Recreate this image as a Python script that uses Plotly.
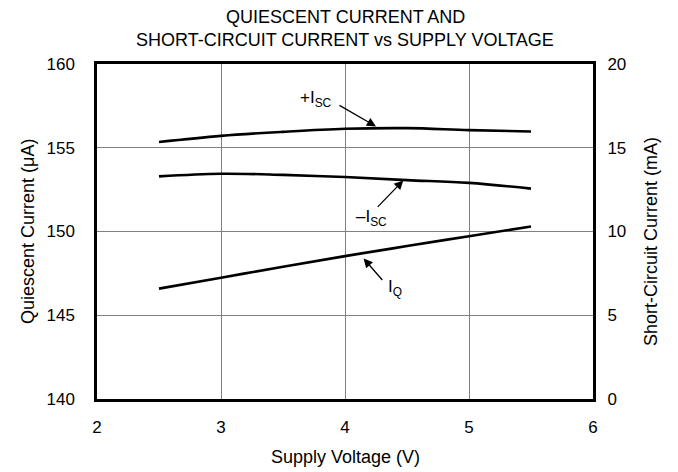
import plotly.graph_objects as go

# Data
voltage = [2.5, 3.0, 3.5, 4.0, 4.5, 5.0, 5.5]
iq_uA = [146.59, 147.24, 147.90, 148.53, 149.13, 149.72, 150.30]
isc_pos_mA = [15.34, 15.71, 15.95, 16.13, 16.17, 16.05, 15.97]
isc_neg_mA = [13.29, 13.45, 13.38, 13.25, 13.07, 12.90, 12.56]

x_ticks = [2, 3, 4, 5, 6]
left_ticks = [140, 145, 150, 155, 160]
right_ticks = [0, 5, 10, 15, 20]

FONT = "Liberation Sans, Arial, sans-serif"
TICK = dict(size=17, color="black", family=FONT)
line_style = dict(color="black", width=2.6, shape="spline")

fig = go.Figure()
fig.add_trace(go.Scatter(x=voltage, y=iq_uA, mode="lines", line=line_style,
                         showlegend=False, hoverinfo="skip"))
fig.add_trace(go.Scatter(x=voltage, y=isc_pos_mA, mode="lines", line=line_style,
                         yaxis="y2", showlegend=False, hoverinfo="skip"))
fig.add_trace(go.Scatter(x=voltage, y=isc_neg_mA, mode="lines", line=line_style,
                         yaxis="y2", showlegend=False, hoverinfo="skip"))

ax_common = dict(showline=True, linecolor="black", linewidth=2.5, mirror=True,
                 ticks="outside", tickcolor="rgba(0,0,0,0)",
                 showgrid=True, gridcolor="#808080", gridwidth=1,
                 zeroline=False, tickfont=TICK)

fig.update_layout(
    width=678, height=472,
    margin=dict(l=97, r=85, t=64, b=73),
    paper_bgcolor="white", plot_bgcolor="white",
    font=dict(family=FONT, color="black", size=17),
    xaxis=dict(range=[2, 6], tickvals=x_ticks, ticklen=11, **ax_common),
    yaxis=dict(range=[140, 160], tickvals=left_ticks, ticklen=16, **ax_common),
    yaxis2=dict(range=[0, 20], tickvals=right_ticks, overlaying="y", side="right",
                showline=False, showgrid=False, zeroline=False,
                ticks="outside", ticklen=10, tickcolor="rgba(0,0,0,0)", tickfont=TICK),
)

# Title and axis titles
PLOT_TOP, PLOT_BOTTOM, PLOT_LEFT, PLOT_RIGHT = 64, 399, 97, 593
def py(pix):
    return (PLOT_BOTTOM - pix) / (PLOT_BOTTOM - PLOT_TOP)
def px(pix):
    return (pix - PLOT_LEFT) / (PLOT_RIGHT - PLOT_LEFT)

texts = [
    dict(x=px(345), y=py(17), text="QUIESCENT CURRENT AND", angle=0),
    dict(x=px(345), y=py(40), text="SHORT-CIRCUIT CURRENT vs SUPPLY VOLTAGE", angle=0),
    dict(x=px(345), y=py(457), text="Supply Voltage (V)", angle=0),
    dict(x=px(28), y=py(232), text="Quiescent Current (μA)", angle=-90),
    dict(x=px(651), y=py(242), text="Short-Circuit Current (mA)", angle=-90),
]
for t in texts:
    fig.add_annotation(x=t["x"], y=t["y"], xref="paper", yref="paper", text=t["text"],
                       textangle=t["angle"], showarrow=False, xanchor="center",
                       yanchor="middle", font=dict(size=18, family=FONT, color="black"))

# Arrows (head in data coordinates, tail offset in pixels)
arrows = [
    dict(x=4.25, y=156.27, ax=-38, ay=-22),
    dict(x=4.47, y=153.05, ax=-27, ay=28),
    dict(x=4.15, y=148.39, ax=20, ay=23),
]
for a in arrows:
    fig.add_annotation(x=a["x"], y=a["y"], xref="x", yref="y", ax=a["ax"], ay=a["ay"],
                       text="", showarrow=True, arrowhead=2, arrowsize=1.4,
                       arrowwidth=1.3, arrowcolor="black")

labels = [
    dict(x=3.77, y=157.9, text="+I<sub>SC</sub>"),
    dict(x=4.21, y=150.8, text="–I<sub>SC</sub>"),
    dict(x=4.40, y=146.6, text="I<sub>Q</sub>"),
]
for l in labels:
    fig.add_annotation(x=l["x"], y=l["y"], xref="x", yref="y", text=l["text"],
                       showarrow=False, xanchor="center", yanchor="middle",
                       font=dict(size=17, family=FONT, color="black"))

fig.write_html("out.html", config={"displayModeBar": False},
               post_script="document.body.style.margin='0';")
